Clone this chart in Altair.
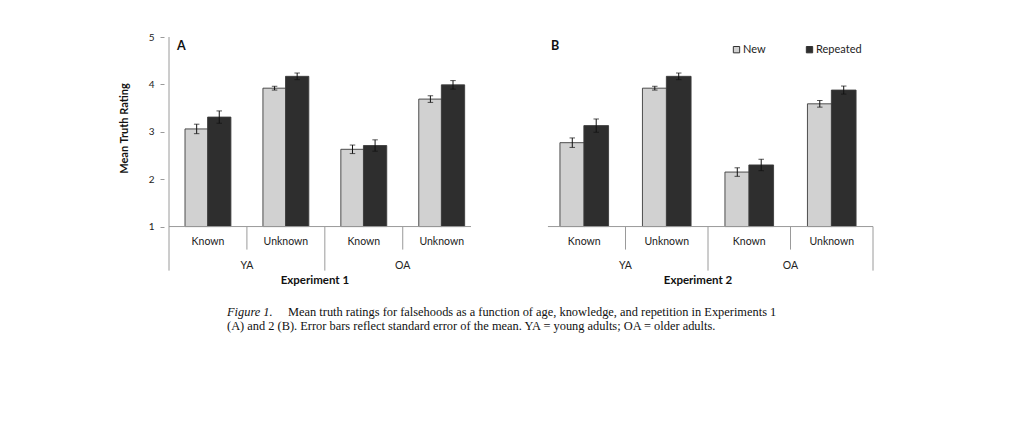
import altair as alt
import pandas as pd

# ---- data ----
ages = ["YA", "YA", "OA", "OA"]
knowledge = ["Known", "Unknown", "Known", "Unknown"]
series = ["New", "Repeated"]

exp1_new = [3.06, 3.92, 2.63, 3.69]
exp1_new_se = [0.10, 0.04, 0.09, 0.07]
exp1_rep = [3.31, 4.17, 2.71, 3.99]
exp1_rep_se = [0.13, 0.07, 0.12, 0.09]

exp2_new = [2.77, 3.92, 2.15, 3.59]
exp2_new_se = [0.10, 0.04, 0.09, 0.07]
exp2_rep = [3.13, 4.17, 2.30, 3.88]
exp2_rep_se = [0.14, 0.07, 0.12, 0.085]

caption_lead = "Figure 1."
caption_line1 = "Mean truth ratings for falsehoods as a function of age, knowledge, and repetition in Experiments 1"
caption_line2 = "(A) and 2 (B). Error bars reflect standard error of the mean. YA = young adults; OA = older adults."

FONT = "Lato"
SERIF = "Liberation Serif"
YDOM = [-0.36, 5]
HEIGHT = 254
OFF = 0.145
AXIS_GREY = "#9a9a9a"
BASE = 1


def bar_table(new, new_se, rep, rep_se):
    rows = []
    for i in range(4):
        for s, vals, ses, sign in (("New", new, new_se, -1), ("Repeated", rep, rep_se, 1)):
            rows.append({
                "x": i + 0.5 + sign * OFF,
                "series": s,
                "value": vals[i],
                "base": BASE,
                "lo": vals[i] - ses[i],
                "hi": vals[i] + ses[i],
            })
    return pd.DataFrame(rows)


def panel(new, new_se, rep, rep_se, width, xdom, bar_size, letter, exp_label,
          vlines, hline, show_y, caption=False):
    df = bar_table(new, new_se, rep, rep_se)
    xs = alt.Scale(domain=xdom, nice=False, zero=False)
    if show_y:
        yaxis = alt.Axis(values=[1, 2, 3, 4, 5], domain=False, grid=False,
                         tickSize=4, tickColor=AXIS_GREY, labelPadding=6,
                         labelFont=FONT, labelFontSize=10, labelColor="#222",
                         title="Mean Truth Rating", titleFont=FONT,
                         titleFontSize=11, titleFontWeight="bold",
                         titleColor="#111", titlePadding=19, titleY=91)
    else:
        yaxis = None
    ys = alt.Scale(domain=YDOM, nice=False, zero=False)

    bars = alt.Chart(df).mark_bar(size=bar_size, stroke="#3c3c3c",
                                  strokeWidth=0.9).encode(
        x=alt.X("x:Q", scale=xs, axis=None),
        y=alt.Y("value:Q", scale=ys, axis=yaxis),
        y2="base:Q",
        color=alt.Color("series:N",
                        scale=alt.Scale(domain=series,
                                        range=["#d1d1d1", "#2e2e2e"]),
                        legend=alt.Legend(
                            title=None, orient="none", direction="horizontal",
                            legendX=567, legendY=7,
                            symbolType="square", symbolSize=40,
                            symbolStrokeColor="#333", symbolStrokeWidth=1,
                            labelFont=FONT, labelFontSize=11,
                            labelColor="#222", labelOffset=1,
                            columnPadding=38)),
    )
    err = alt.Chart(df).mark_rule(color="#111", strokeWidth=1).encode(
        x="x:Q", y="lo:Q", y2="hi:Q")
    cap_lo = alt.Chart(df).mark_tick(orient="horizontal", size=5.5,
                                     thickness=1, color="#111").encode(
        x="x:Q", y="lo:Q")
    cap_hi = alt.Chart(df).mark_tick(orient="horizontal", size=5.5,
                                     thickness=1, color="#111").encode(
        x="x:Q", y="hi:Q")

    vl = pd.DataFrame(vlines, columns=["px", "ya", "yb"])
    vframe = alt.Chart(vl).mark_rule(color=AXIS_GREY, strokeWidth=1).encode(
        x="px:Q", y="ya:Q", y2="yb:Q")
    hl = pd.DataFrame([hline], columns=["xa", "xb", "yy"])
    hframe = alt.Chart(hl).mark_rule(color=AXIS_GREY, strokeWidth=1).encode(
        x="xa:Q", x2="xb:Q", y="yy:Q")

    klab = pd.DataFrame({"x": [i + 0.5 for i in range(4)], "t": knowledge,
                         "base": BASE})
    ktext = alt.Chart(klab).mark_text(font=FONT, fontSize=10.5, color="#222",
                                      dy=15).encode(
        x="x:Q", y="base:Q", text="t:N")
    alab = pd.DataFrame({"x": [1, 3], "t": [ages[0], ages[2]], "base": BASE})
    atext = alt.Chart(alab).mark_text(font=FONT, fontSize=10.5, color="#222",
                                      dy=39).encode(
        x="x:Q", y="base:Q", text="t:N")
    etext = alt.Chart(pd.DataFrame({"x": [2], "t": [exp_label], "base": BASE})).mark_text(
        font=FONT, fontSize=11.5, fontWeight="bold", color="#111",
        dy=54, dx=-10).encode(x="x:Q", y="base:Q", text="t:N")
    ltext = alt.Chart(pd.DataFrame({"x": [xdom[0]], "t": [letter], "top": [5]})).mark_text(
        font=FONT, fontSize=12.5, fontWeight="bold", color="#111",
        align="left", dx=8, dy=9).encode(
        x="x:Q", y="top:Q", text="t:N")

    layers = [bars, vframe, hframe, err, cap_lo, cap_hi, ktext, atext, etext, ltext]
    if caption:
        c0 = alt.Chart(pd.DataFrame({"t": [caption_lead]})).mark_text(
            font=SERIF, fontSize=12.4, fontStyle="italic", color="#111",
            align="left", baseline="middle").encode(
            x=alt.value(63), y=alt.value(275), text="t:N")
        c1 = alt.Chart(pd.DataFrame({"t": [caption_line1]})).mark_text(
            font=SERIF, fontSize=12.4, color="#111",
            align="left", baseline="middle").encode(
            x=alt.value(124), y=alt.value(275), text="t:N")
        c2 = alt.Chart(pd.DataFrame({"t": [caption_line2]})).mark_text(
            font=SERIF, fontSize=12.4, color="#111",
            align="left", baseline="middle").encode(
            x=alt.value(63), y=alt.value(289), text="t:N")
        layers += [c0, c1, c2]
    return alt.layer(*layers).properties(width=width, height=HEIGHT)


LONG = 0.07
SHORT = 0.514
vA = [(0, LONG, 5), (1, SHORT, 1), (2, LONG, 1), (3, SHORT, 1)]
hA = (0, 3.876, 1)
vB = [(1, SHORT, 1), (2, LONG, 1), (3, SHORT, 1), (4, LONG, 1)]
hB = (0.06, 4, 1)

pA = panel(exp1_new, exp1_new_se, exp1_rep, exp1_rep_se, 312, [0, 3.876],
           23.3, "A", "Experiment 1", vA, hA, True, caption=True)
pB = panel(exp2_new, exp2_new_se, exp2_rep, exp2_rep_se, 340, [0, 4],
           24.7, "B", "Experiment 2", vB, hB, False)

chart = alt.hconcat(pA, pB, spacing=62, bounds="flush").properties(
    padding={"left": 110, "top": 24, "right": 5, "bottom": 5},
    background="white",
).configure_view(stroke=None)

chart.save("out.html", embed_options={"renderer": "svg", "actions": False})
